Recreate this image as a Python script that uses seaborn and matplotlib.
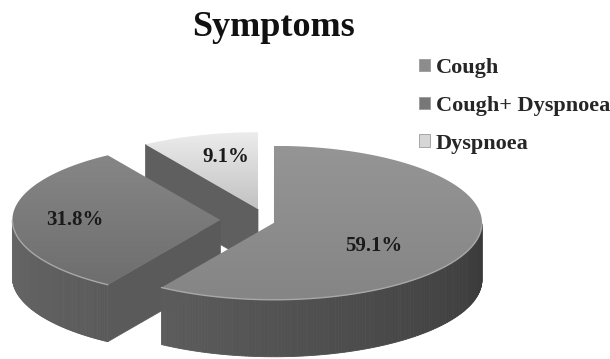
import numpy as np
import matplotlib
matplotlib.use("Agg")
import matplotlib.pyplot as plt
from matplotlib.patches import Polygon, Patch
from matplotlib.colors import to_rgb
import seaborn as sns

# ---- data ----
categories = ["Cough", "Cough+ Dyspnoea", "Dyspnoea"]
shares = [59.1, 31.8, 9.1]
chart_title = "Symptoms"

# ---- style ----
sns.set_theme(style="white")
plt.rcParams["font.family"] = ["Liberation Serif", "DejaVu Serif"]

top_grad = [("#959595", "#858585"), ("#868686", "#6e6e6e"), ("#ececec", "#c2c2c2")]
side_grad = [("#5c5c5c", "#393939"), ("#676767", "#5a5a5a"), ("#606060", "#606060")]
cut_color = ["#555555", "#5a5a5a", "#5f5f5f"]
legend_color = ["#8c8c8c", "#777777", "#d6d6d6"]
explode = [0.06, 0.2, 0.068]
label_r = [0.5, 0.7, 0.55]
label_shift = [-0.06, 0.0, 0.055]   # vertical nudge of the percentage text
squash = 0.37         # vertical foreshortening of the disc
explode_squash = 0.8  # vertical foreshortening of explode offsets
depth = 0.274         # thickness of the disc

fig = plt.figure(figsize=(6.10, 3.59), dpi=100)
ax = fig.add_axes([0, 0, 1, 1])
ax.axis("off")


def mix(c1, c2, f):
    a, b = np.array(to_rgb(c1)), np.array(to_rgb(c2))
    return tuple(a + (b - a) * f)


# slice angles: start at 12 o'clock, go clockwise
slices = []
start = 90.0
for i, v in enumerate(shares):
    sweep = v / sum(shares) * 360.0
    a2, a1 = start, start - sweep
    start = a1
    mid = np.radians((a1 + a2) / 2)
    cx = explode[i] * np.cos(mid)
    cy = explode[i] * np.sin(mid) * explode_squash
    slices.append(dict(i=i, a1=a1, a2=a2, mid=mid, cx=cx, cy=cy))


def top_pt(s, t):
    t = np.radians(t)
    return s["cx"] + np.cos(t), s["cy"] + squash * np.sin(t)


# paint back-to-front
for s in sorted(slices, key=lambda s: -s["cy"]):
    i = s["i"]
    cx, cy = s["cx"], s["cy"]

    # radial cut faces that face the viewer
    for ang, normal in ((s["a2"], s["a2"] + 90), (s["a1"], s["a1"] - 90)):
        if np.sin(np.radians(normal)) < -1e-6:
            ex, ey = top_pt(s, ang)
            poly = [(cx, cy), (ex, ey), (ex, ey - depth), (cx, cy - depth)]
            ax.add_patch(Polygon(poly, closed=True, fc=cut_color[i],
                                 ec=cut_color[i], lw=0.5, zorder=2))

    # curved outer wall, front part only
    ts = np.linspace(s["a1"], s["a2"], 240)
    front = [t for t in ts if np.sin(np.radians(t)) < 0]
    if len(front) > 1:
        lo, hi = front[0], front[-1]
        for t0, t1 in zip(front[:-1], front[1:]):
            f = ((t0 + t1) / 2 - lo) / max(hi - lo, 1e-9)
            col = mix(side_grad[i][0], side_grad[i][1], f)
            x0, y0 = top_pt(s, t0)
            x1, y1 = top_pt(s, t1)
            ax.add_patch(Polygon([(x0, y0), (x1, y1), (x1, y1 - depth),
                                  (x0, y0 - depth)], closed=True,
                                 fc=col, ec=col, lw=0.6, zorder=3))

    # top face with a soft vertical gradient
    arc = [top_pt(s, t) for t in ts]
    pts = [(cx, cy)] + arc
    top = Polygon(pts, closed=True, fc="none", ec="none", zorder=4)
    ax.add_patch(top)
    ys = [p[1] for p in pts]
    xs = [p[0] for p in pts]
    grad = np.array([mix(top_grad[i][0], top_grad[i][1], f)
                     for f in np.linspace(0, 1, 64)])[:, None, :]
    im = ax.imshow(grad, extent=(min(xs), max(xs), min(ys), max(ys)),
                   origin="upper", aspect="auto", zorder=4,
                   interpolation="bilinear")
    im.set_clip_path(top)

    # light bevel along the front rim
    if len(front) > 1:
        rim = np.array([top_pt(s, t) for t in front])
        ax.plot(rim[:, 0], rim[:, 1], color="#a8a8a8", lw=1.0, zorder=5)

    # percentage label
    lx = cx + label_r[i] * np.cos(s["mid"])
    ly = cy + label_r[i] * squash * np.sin(s["mid"]) + label_shift[i]
    ax.text(lx, ly, f"{shares[i]:.1f}%", ha="center", va="center",
            fontsize=15, fontweight="bold", color="#1a1a1a", zorder=6)

ax.set_xlim(-262 / 208, 348 / 208)
ax.set_ylim((220 - 359) / 208, 220 / 208)

fig.text(273 / 610, 1 - 27 / 359, chart_title, ha="center", va="center",
         fontsize=26, fontweight="bold", color="#111111")

handles = [Patch(facecolor=c, edgecolor="#9a9a9a", lw=0.6) for c in legend_color]
fig.legend(handles, categories, loc="upper left",
           bbox_to_anchor=(419 / 610, 1 - 58 / 359), frameon=False,
           prop=dict(family="Liberation Serif", weight="bold", size=16),
           handlelength=0.5, handleheight=0.5, handletextpad=0.25,
           labelspacing=0.8, borderpad=0, borderaxespad=0)

fig.savefig("out.png", dpi=100, facecolor="white")
